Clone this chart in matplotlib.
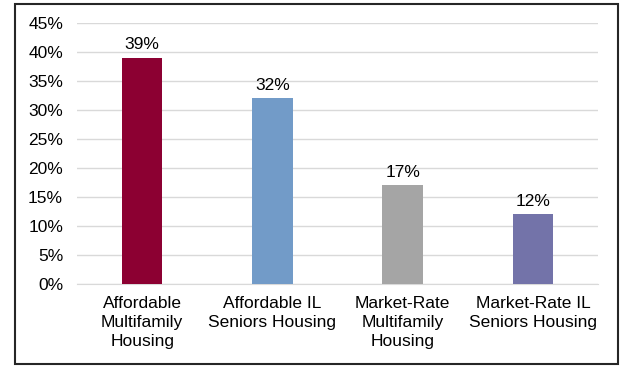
import matplotlib
matplotlib.use("Agg")
import matplotlib.pyplot as plt
from matplotlib.patches import Rectangle
from matplotlib.ticker import FuncFormatter

categories = ["Affordable\nMultifamily\nHousing", "Affordable IL\nSeniors Housing",
              "Market-Rate\nMultifamily\nHousing", "Market-Rate IL\nSeniors Housing"]
shares = [39, 32, 17, 12]
bar_colors = ["#8C0032", "#729BC8", "#A5A5A5", "#7373A9"]

plt.rcParams["font.family"] = ["Liberation Sans", "DejaVu Sans"]
FS = 12.5

fig = plt.figure(figsize=(6.21, 3.67), dpi=100)
ax = fig.add_axes([77 / 621, (367 - 284) / 367, (598 - 77) / 621, (284 - 23) / 367])

x = range(len(categories))
ax.bar(x, shares, width=0.31, color=bar_colors, zorder=3)
for xi, v in zip(x, shares):
    ax.text(xi, v + 1.0, f"{v}%", ha="center", va="bottom", fontsize=FS, color="#000000")

ax.set_xlim(-0.5, len(categories) - 0.5)
ax.set_ylim(0, 45)
ax.set_yticks(range(0, 46, 5))
ax.yaxis.set_major_formatter(FuncFormatter(lambda v, _: f"{v:.0f}%"))
ax.set_xticks(list(x))
ax.set_xticklabels(categories, fontsize=FS, linespacing=1.3)
ax.tick_params(axis="y", labelsize=FS, length=0, pad=10)
ax.tick_params(axis="x", length=0, pad=9)
ax.grid(axis="y", color="#D9D9D9", linewidth=1, zorder=0)
for side in ["top", "right", "left"]:
    ax.spines[side].set_visible(False)
ax.spines["bottom"].set_color("#D9D9D9")

# frame around the whole chart
fig.patches.append(Rectangle((14.5 / 621, 1 - 364 / 367), (618 - 14.5) / 621, (364 - 3.5) / 367,
                             transform=fig.transFigure, fill=False, edgecolor="#262626", linewidth=1.5))

fig.savefig("out.png", dpi=100)
